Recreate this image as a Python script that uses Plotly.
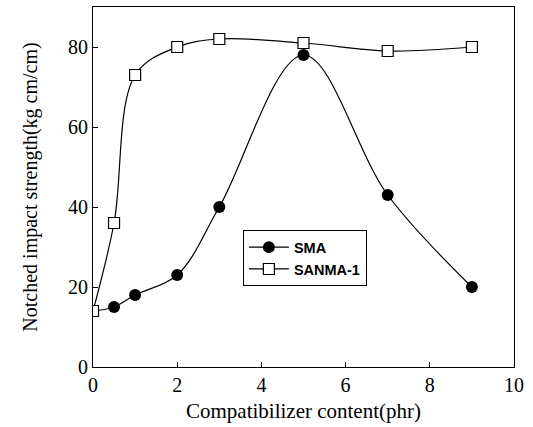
import plotly.graph_objects as go

content_phr = [0, 0.5, 1, 2, 3, 5, 7, 9]
sma = [14, 15, 18, 23, 40, 78, 43, 20]
sanma1 = [14, 36, 73, 80, 82, 81, 79, 80]
x_ticks = [0, 2, 4, 6, 8, 10]
y_ticks = [0, 20, 40, 60, 80]

fig = go.Figure()
fig.add_trace(go.Scatter(
    x=content_phr, y=sma, name="SMA", mode="lines+markers",
    line=dict(color="black", width=1.2, shape="spline", smoothing=1.0),
    marker=dict(symbol="circle", size=12, color="black"),
))
fig.add_trace(go.Scatter(
    x=content_phr, y=sanma1, name="SANMA-1", mode="lines+markers",
    line=dict(color="black", width=1.2, shape="spline", smoothing=1.0),
    marker=dict(symbol="square", size=11, color="white", line=dict(color="black", width=1.2)),
))

serif = "Liberation Serif, Times New Roman, serif"
fig.update_layout(
    width=533, height=427,
    margin=dict(l=93, r=19, t=7, b=60),
    paper_bgcolor="white", plot_bgcolor="white",
    font=dict(family=serif, color="black", size=20),
    showlegend=True,
    legend=dict(
        x=0.356, y=0.38, xanchor="left", yanchor="top",
        bgcolor="white", bordercolor="black", borderwidth=1,
        font=dict(family="Liberation Sans, Arial, sans-serif", size=14.5, color="black", weight="bold"),
        tracegroupgap=0, itemwidth=40,
    ),
    xaxis=dict(
        range=[0, 10], tickvals=x_ticks, ticktext=[str(v) for v in x_ticks],
        ticks="inside", ticklen=5, tickcolor="black",
        showline=True, linecolor="black", linewidth=1.2, mirror=True,
        showgrid=False, zeroline=False,
        title=dict(text="Compatibilizer content(phr)", font=dict(size=21), standoff=8),
    ),
    yaxis=dict(
        range=[0, 90], tickvals=y_ticks, ticktext=[str(v) for v in y_ticks],
        ticks="inside", ticklen=5, tickcolor="black",
        showline=True, linecolor="black", linewidth=1.2, mirror=True,
        showgrid=False, zeroline=False,
        title=dict(text="Notched impact strength(kg cm/cm)", font=dict(size=20), standoff=24),
    ),
)

fig.write_html("out.html")
